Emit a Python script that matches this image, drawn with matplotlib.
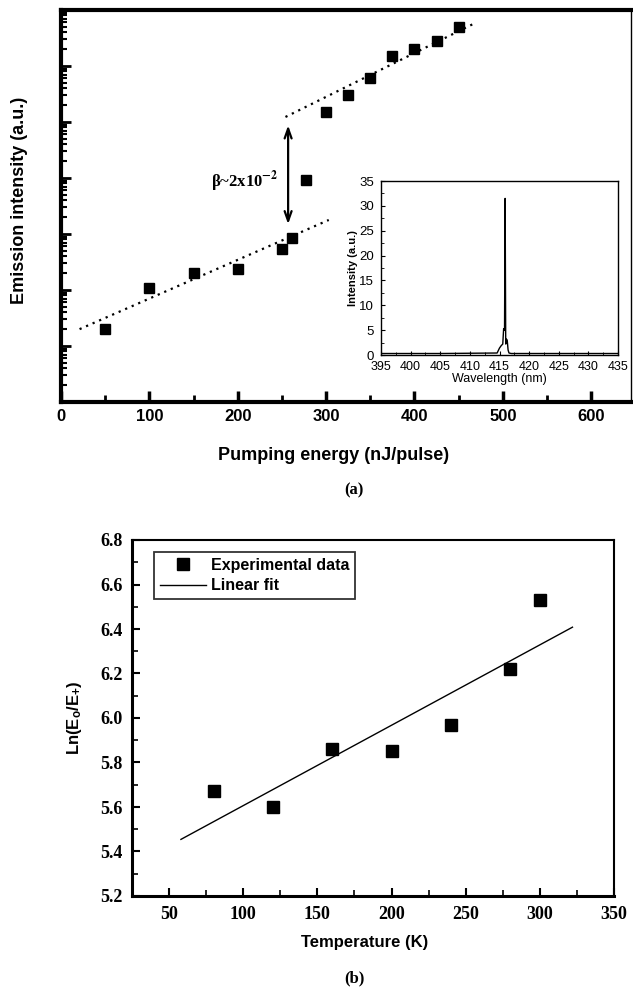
import numpy as np
import matplotlib
matplotlib.use('Agg')
import matplotlib.pyplot as plt
from matplotlib.ticker import LogLocator, NullFormatter, MultipleLocator

plt.rcParams['mathtext.fontset'] = 'custom'
plt.rcParams['mathtext.rm'] = 'Liberation Sans'
plt.rcParams['mathtext.bf'] = 'Liberation Sans:bold'
plt.rcParams['mathtext.it'] = 'Liberation Sans:italic'

SANS = 'Liberation Sans'
SERIF = 'Liberation Serif'

# ---------------- data: panel (a) ----------------
pump_energy = [50, 100, 150, 200, 250, 261, 277, 300, 325, 350, 375, 400, 425, 450]
emission = [20.4, 107, 200, 240, 537, 832, 9330, 1.48e5, 3.0e5, 6.2e5,
            1.5e6, 2.04e6, 2.8e6, 5.0e6]
fit_low_x = [21, 303]
fit_low_y = [20, 1780]
fit_high_x = [254, 470]
fit_high_y = [1.23e5, 6.0e6]
arrow_x = 257
arrow_y = [8.7e4, 1500]
pump_ticks = [0, 100, 200, 300, 400, 500, 600]

# inset spectrum
wavelength = [395.0, 405.0, 414.6, 415.0, 415.3, 415.55, 415.7, 415.85, 415.95,
              416.05, 416.15, 416.3, 416.45, 416.6, 417.0, 425.0, 435.0]
intensity = [0.3, 0.3, 0.4, 1.4, 1.9, 2.2, 5.3, 5.0, 31.5,
             2.2, 3.2, 3.0, 1.0, 0.4, 0.3, 0.3, 0.3]
wl_ticks = [395, 400, 405, 410, 415, 420, 425, 430, 435]
int_ticks = [0, 5, 10, 15, 20, 25, 30, 35]

# ---------------- data: panel (b) ----------------
temperature = [80, 120, 160, 200, 240, 280, 300]
ln_ratio = [5.67, 5.60, 5.86, 5.85, 5.97, 6.22, 6.53]
fit_range = [58, 322]
temp_ticks = [50, 100, 150, 200, 250, 300, 350]
ln_ticks = [5.2, 5.4, 5.6, 5.8, 6.0, 6.2, 6.4, 6.6, 6.8]

W, H = 633, 990
fig = plt.figure(figsize=(W / 100, H / 100), dpi=100)


def fx(px):
    return px / W


def fy(py):
    return 1 - py / H


# ================= panel (a) =================
axa = fig.add_axes([fx(61), fy(402), fx(631 - 61), (402 - 10) / H])
axa.plot(pump_energy, emission, 's', color='black', ms=7, zorder=3)
axa.plot(fit_low_x, fit_low_y, color='black', lw=1.6, dashes=(1.0, 2.2))
axa.plot(fit_high_x, fit_high_y, color='black', lw=1.6, dashes=(1.0, 2.2))
axa.annotate('', xy=(arrow_x, arrow_y[1]), xytext=(arrow_x, arrow_y[0]),
             arrowprops=dict(arrowstyle='<->,head_length=0.7,head_width=0.25',
                             color='black', lw=1.6, shrinkA=0, shrinkB=0))
axa.text(246, 8500, r'β~2x10$^{\mathbf{-2}}$', ha='right', va='center',
         fontsize=12, fontweight='bold', family=SERIF, math_fontfamily='stix')
axa.set_yscale('log')
axa.set_ylim(1, 1e7)
axa.set_xlim(0, 645)
axa.set_xticks(pump_ticks)
axa.xaxis.set_minor_locator(MultipleLocator(50))
axa.yaxis.set_major_locator(LogLocator(base=10, numticks=20))
axa.yaxis.set_minor_locator(LogLocator(base=10, subs=np.arange(2, 10), numticks=200))
axa.yaxis.set_major_formatter(NullFormatter())
axa.yaxis.set_minor_formatter(NullFormatter())
axa.tick_params(axis='both', which='both', direction='in', top=False, right=False)
axa.tick_params(axis='x', which='major', length=8, width=2.5, pad=5)
axa.tick_params(axis='x', which='minor', length=5, width=2)
axa.tick_params(axis='y', which='major', length=7, width=2)
axa.tick_params(axis='y', which='minor', length=4, width=1.5)
for lab in axa.get_xticklabels():
    lab.set_fontfamily(SANS)
    lab.set_fontweight('bold')
    lab.set_fontsize(12)
for side in ['left', 'bottom', 'top']:
    axa.spines[side].set_linewidth(3)
axa.spines['right'].set_linewidth(1)

fig.text(fx(20), fy(200), 'Emission intensity (a.u.)', rotation=90,
         ha='center', va='center', fontsize=13, fontweight='bold', family=SANS)
fig.text(fx(334), fy(455), 'Pumping energy (nJ/pulse)', ha='center', va='center',
         fontsize=13, fontweight='bold', family=SANS)
fig.text(fx(354), fy(490), '(a)', ha='center', va='center',
         fontsize=12, fontweight='bold', family=SERIF)

# inset
axi = fig.add_axes([fx(381), fy(355), fx(618 - 381), (355 - 181) / H])
axi.plot(wavelength, intensity, color='black', lw=1.0)
axi.set_xlim(395, 435)
axi.set_ylim(0, 35)
axi.set_xticks(wl_ticks)
axi.set_yticks(int_ticks)
axi.yaxis.set_minor_locator(MultipleLocator(2.5))
axi.xaxis.set_minor_locator(MultipleLocator(2.5))
axi.tick_params(axis='both', which='both', direction='in', top=False, right=False)
axi.tick_params(axis='x', which='major', pad=4, labelsize=9)
axi.tick_params(axis='y', which='major', pad=5, labelsize=9.5)
axi.tick_params(which='major', length=3, width=0.8)
axi.tick_params(which='minor', length=2, width=0.6)
for lab in axi.get_xticklabels() + axi.get_yticklabels():
    lab.set_fontfamily(SANS)
for s in axi.spines.values():
    s.set_linewidth(1.0)
axi.set_xlabel('Wavelength (nm)', fontsize=9, family=SANS, labelpad=0)
axi.set_ylabel('Intensity (a.u.)', fontsize=8, fontweight='bold', family=SANS,
               labelpad=1)

# ================= panel (b) =================
axb = fig.add_axes([fx(132), fy(896), fx(614 - 132), (896 - 540) / H])
axb.plot(temperature, ln_ratio, 's', color='black', ms=8.5, label='Experimental data',
         zorder=3)
coef = np.polyfit(temperature, ln_ratio, 1)
axb.plot(fit_range, np.polyval(coef, fit_range), color='black', lw=1.0,
         label='Linear fit')
axb.set_xlim(25, 350)
axb.set_ylim(5.2, 6.8)
axb.set_xticks(temp_ticks)
axb.set_yticks(ln_ticks)
axb.set_yticklabels([f'{v:.1f}' for v in ln_ticks])
axb.xaxis.set_minor_locator(MultipleLocator(25))
axb.yaxis.set_minor_locator(MultipleLocator(0.1))
axb.tick_params(axis='both', which='both', direction='in', top=False, right=False)
axb.tick_params(which='major', length=6, width=1.5, pad=7)
axb.tick_params(which='minor', length=4, width=1.2)
for lab in axb.get_xticklabels() + axb.get_yticklabels():
    lab.set_fontfamily(SERIF)
    lab.set_fontweight('bold')
    lab.set_fontsize(13)
for side in ['left', 'bottom']:
    axb.spines[side].set_linewidth(2.2)
for side in ['top', 'right']:
    axb.spines[side].set_linewidth(1.5)

leg = axb.legend(loc='upper left', bbox_to_anchor=(0.0456, 0.966), borderaxespad=0,
                 prop={'family': SANS, 'weight': 'bold', 'size': 11.5},
                 handlelength=2.9, handletextpad=0.3, borderpad=0.35,
                 labelspacing=0.35, fancybox=False, frameon=True)
leg.get_frame().set_edgecolor('black')
leg.get_frame().set_linewidth(1.3)

fig.text(fx(75), fy(718), r'Ln(E$_\mathbf{o}$/E$_\mathbf{+}$)', rotation=90,
         ha='center', va='center', fontsize=12, fontweight='bold', family=SANS,
         math_fontfamily='custom')
fig.text(fx(365), fy(943), 'Temperature (K)', ha='center', va='center',
         fontsize=12, fontweight='bold', family=SANS)
fig.text(fx(354), fy(978), '(b)', ha='center', va='center',
         fontsize=12, fontweight='bold', family=SERIF)

fig.savefig('out.png', dpi=100)
